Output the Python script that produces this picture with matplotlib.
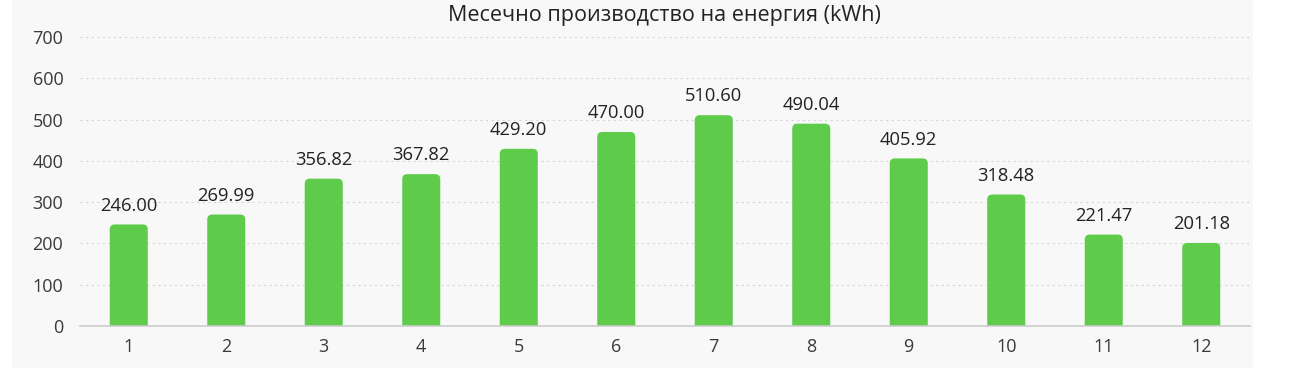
import matplotlib
matplotlib.use("Agg")
import matplotlib.pyplot as plt
from matplotlib.patches import FancyBboxPatch

months = ["1", "2", "3", "4", "5", "6", "7", "8", "9", "10", "11", "12"]
energy = [246.00, 269.99, 356.82, 367.82, 429.20, 470.00, 510.60, 490.04, 405.92, 318.48, 221.47, 201.18]
yticks = [0, 100, 200, 300, 400, 500, 600, 700]
title = "Месечно производство на енергия (kWh)"

plt.rcParams['font.family'] = ['Open Sans', 'DejaVu Sans']

W, H = 1290, 372
fig = plt.figure(figsize=(W / 100, H / 100), dpi=100)
fig.patch.set_facecolor("white")

# light panel behind everything
bg = fig.add_axes([12 / W, 4 / H, (1253 - 12) / W, (H - 4) / H], zorder=-5)
bg.set_facecolor("#f8f8f8")
bg.set_xticks([]); bg.set_yticks([])
for s in bg.spines.values():
    s.set_visible(False)

left, right = 80 / W, 1250 / W
bottom, top = 1 - 326 / H, 1 - 37 / H
ax = fig.add_axes([left, bottom, right - left, top - bottom], zorder=1)
ax.set_facecolor("none")

x = list(range(len(months)))
bars = ax.bar(x, energy, width=0.39, color="#5ecb4b", zorder=2)

ax.set_xlim(-0.5, len(months) - 0.5)
ax.set_ylim(0, 700)

# replace rectangles with rounded-top patches
px_per_x = (W * (right - left)) / len(months)
px_per_y = (H * (top - bottom)) / 700
r_px = 5
rs = r_px / px_per_x
aspect = (r_px / px_per_y) / rs
for b in bars:
    bx, bw, bh = b.get_x(), b.get_width(), b.get_height()
    ext = 30
    p = FancyBboxPatch((bx, -ext), bw, bh + ext,
                       boxstyle=f"round,pad=0,rounding_size={rs}",
                       mutation_aspect=aspect,
                       facecolor=b.get_facecolor(), edgecolor="none", zorder=2)
    ax.add_patch(p)
    b.set_visible(False)

for xi, v in zip(x, energy):
    ax.annotate(f"{v:.2f}", (xi, v), xytext=(0, 7), textcoords="offset points",
                ha="center", va="bottom", fontsize=13.2, color="#222222", zorder=3)

ax.set_yticks(yticks)
ax.set_yticklabels([str(t) for t in yticks])
ax.set_xticks(x)
ax.set_xticklabels(months)
ax.tick_params(axis="both", length=0, labelsize=13, colors="#3a3a3a")
ax.tick_params(axis="y", pad=12)
ax.tick_params(axis="x", pad=9)

ax.yaxis.grid(True, linestyle=(0, (2, 3)), color="#d6d6d6", linewidth=0.8, zorder=0)
ax.set_axisbelow(True)
for s in ["top", "right", "left"]:
    ax.spines[s].set_visible(False)
ax.spines["bottom"].set_color("#cccccc")
ax.spines["bottom"].set_linewidth(1.2)
ax.spines["bottom"].set_zorder(3)

fig.text(664 / W, 1 - 15 / H, title, ha="center", va="center",
         fontsize=15.5, color="#222222")

fig.savefig("out.png", dpi=100, facecolor=fig.get_facecolor())
